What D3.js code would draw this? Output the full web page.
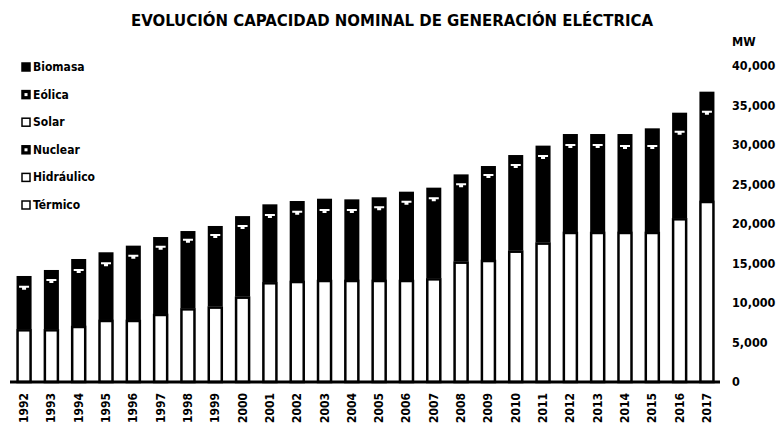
<!DOCTYPE html>
<html lang="es">
<head>
<meta charset="utf-8">
<title>Evolución capacidad nominal de generación eléctrica</title>
<script src="https://cdn.jsdelivr.net/npm/d3@7"></script>
<style>
  body { margin: 0; background: #fff; }
  text { font-family: "Liberation Sans Narrow", "DejaVu Sans Condensed", "Liberation Sans", sans-serif; font-weight: bold; fill: #000; }
</style>
</head>
<body>
<script>
// years and installed capacity (MW) by source
var years = d3.range(1992, 2018).map(String);
var termico    = [6670, 6670, 7090, 7850, 7850, 8610, 9320, 9540, 10800, 12620, 12780, 12910, 12910, 12910, 12910, 13120, 15230, 15440, 16620, 17640, 18990, 18990, 18990, 18990, 20720, 22910];
var hidraulico = [5390, 6230, 7090, 7170, 8140, 8520, 8680, 9060, 8950, 8520, 8780, 8860, 8860, 9200, 9910, 10130, 9790, 10760, 10850, 10970, 11010, 11010, 10880, 10880, 10960, 11310];
var nuclear    = [1010, 1010, 1010, 1010, 1010, 1010, 1010, 1010, 1010, 1010, 1010, 1010, 1010, 1010, 1010, 1010, 1010, 1010, 1010, 1010, 1010, 1010, 1010, 1760, 1760, 1760];
var solar      = [0, 0, 0, 0, 0, 0, 0, 0, 0, 0, 0, 0, 0, 0, 0, 0, 0, 0, 0, 0, 8, 8, 8, 8, 8, 8];
var eolica     = [0, 0, 0, 0, 0, 10, 10, 10, 20, 25, 25, 25, 25, 25, 30, 30, 30, 30, 60, 110, 140, 190, 190, 190, 230, 230];
var biomasa    = [350, 270, 380, 390, 260, 200, 90, 130, 220, 315, 315, 395, 315, 235, 230, 310, 220, 100, 190, 190, 232, 182, 312, 282, 412, 532];
var yTicks = [0, 5000, 10000, 15000, 20000, 25000, 30000, 35000, 40000];
var legendNames = ["Biomasa", "Eólica", "Solar", "Nuclear", "Hidráulico", "Térmico"];

var w = 777, h = 426;
var svg = d3.select("body").append("svg").attr("width", w).attr("height", h);

var x = d3.scaleBand().domain(years).range([10, 721]).paddingInner(0.45).paddingOuter(0.24);
var y = d3.scaleLinear().domain([0, 40000]).range([382, 66]);

var keys = ["termico", "hidraulico", "nuclear", "solar", "eolica", "biomasa"];
var table = years.map(function(yr, i) {
  return { year: yr, termico: termico[i], hidraulico: hidraulico[i], nuclear: nuclear[i],
           solar: solar[i], eolica: eolica[i], biomasa: biomasa[i] };
});
var stack = d3.stack().keys(keys)(table);

// title
svg.append("text")
  .attr("x", 392).attr("y", 26)
  .attr("text-anchor", "middle")
  .attr("font-size", 16)
  .attr("textLength", 522).attr("lengthAdjust", "spacingAndGlyphs")
  .text("EVOLUCIÓN CAPACIDAD NOMINAL DE GENERACIÓN ELÉCTRICA");

// black top part (everything above térmico)
var topStart = stack[1], topEnd = stack[stack.length - 1];
svg.append("g").selectAll("rect")
  .data(table)
  .enter().append("rect")
  .attr("x", function(d) { return x(d.year); })
  .attr("width", x.bandwidth())
  .attr("y", function(d, i) { return y(topEnd[i][1]); })
  .attr("height", function(d, i) { return y(topStart[i][0]) - y(topEnd[i][1]); })
  .attr("fill", "#000");

// white térmico part
svg.append("g").selectAll("rect")
  .data(stack[0])
  .enter().append("rect")
  .attr("x", function(d) { return x(d.data.year) + 1; })
  .attr("width", x.bandwidth() - 2)
  .attr("y", function(d) { return y(d[1]) + 1; })
  .attr("height", function(d) { return y(d[0]) - y(d[1]) - 1; })
  .attr("fill", "#fff")
  .attr("stroke", "#000")
  .attr("stroke-width", 2.5);

// white marker at top of hidráulico
svg.append("g").selectAll("path")
  .data(stack[1])
  .enter().append("path")
  .attr("d", function(d) {
    var cx = x(d.data.year) + x.bandwidth() / 2, cy = y(d[1]);
    return "M" + (cx - 5) + "," + (cy - 1) + "h10v2h-3v2h-4v-2h-3z";
  })
  .attr("fill", "#fff");

// baseline
svg.append("line")
  .attr("x1", 10).attr("x2", 720)
  .attr("y1", y(0)).attr("y2", y(0))
  .attr("stroke", "#000").attr("stroke-width", 3);

// right-hand value labels
svg.append("g").selectAll("text")
  .data(yTicks)
  .enter().append("text")
  .attr("x", 732)
  .attr("y", function(d) { return y(d) + 4; })
  .attr("font-size", 12.5)
  .text(function(d) { return d3.format(",")(d); });

svg.append("text").attr("x", 732).attr("y", 46).attr("font-size", 12.5).text("MW");

// year labels, rotated
svg.append("g").selectAll("text")
  .data(years)
  .enter().append("text")
  .attr("transform", function(d) {
    return "translate(" + (x(d) + x.bandwidth() / 2 + 4) + ",393) rotate(-90)";
  })
  .attr("text-anchor", "end")
  .attr("font-size", 12)
  .text(function(d) { return d; });

// legend
var legend = svg.append("g").selectAll("g")
  .data(legendNames)
  .enter().append("g")
  .attr("transform", function(d, i) { return "translate(26," + (67 + i * 27.6) + ")"; });

legend.append("rect")
  .attr("x", -4).attr("y", -4).attr("width", 8).attr("height", 8)
  .attr("fill", function(d, i) { return i === 0 || i === 1 || i === 3 ? "#000" : "#fff"; })
  .attr("stroke", "#000").attr("stroke-width", 1.5);
legend.filter(function(d, i) { return i === 1 || i === 3; }).append("rect")
  .attr("x", -1.5).attr("y", -1.5).attr("width", 3).attr("height", 3)
  .attr("fill", "#fff");

legend.append("text")
  .attr("x", 7).attr("y", 4)
  .attr("font-size", 12)
  .text(function(d) { return d; });
</script>
</body>
</html>
